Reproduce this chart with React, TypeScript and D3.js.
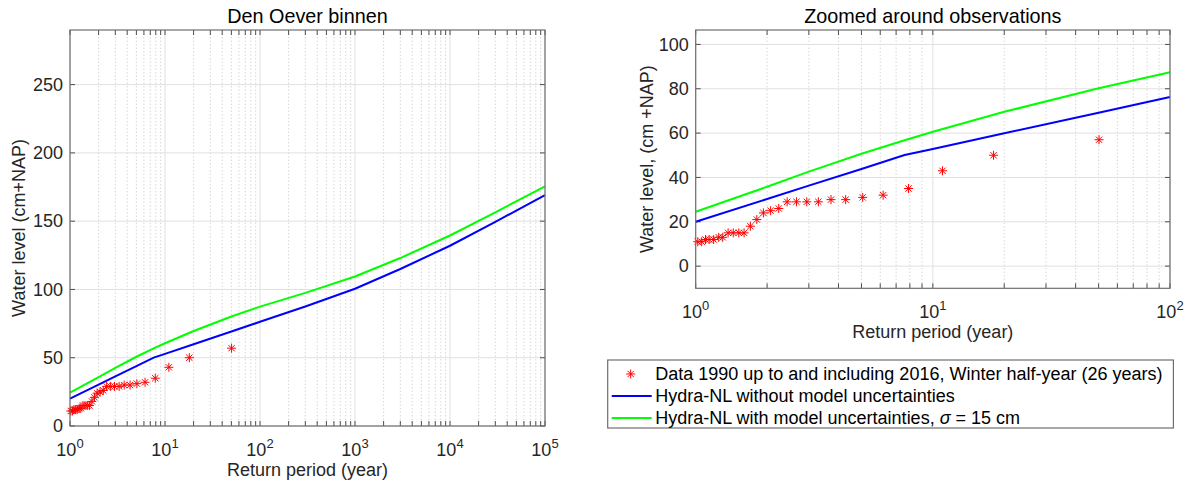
import React, { useRef, useEffect } from "react";
import * as d3 from "d3";

// observations, winter half-year maxima (return period in years, level in cm+NAP)
const obsPeriod = [50.21, 18.03, 10.98, 7.9, 6.17, 5.06, 4.29, 3.72, 3.29, 2.94, 2.66, 2.43, 2.24, 2.07,
  1.93, 1.81, 1.7, 1.6, 1.52, 1.44, 1.37, 1.3, 1.25, 1.19, 1.14, 1.1, 1.06, 1.02];
const obsLevel = [57, 50, 43, 35, 32, 31, 30, 30, 29, 29, 29, 29, 26, 25,
  24, 21, 18, 15, 15, 15, 15, 13, 13, 12, 12, 12, 11, 11];

// Hydra-NL curves
const modelPeriod = [1, 2, 3, 5, 7.6, 10, 20, 50, 100, 300, 1000, 3000, 10000, 30000, 100000];
const levelNoUnc = [20, 30.3, 36.3, 43.8, 50.1, 52.8, 59.9, 69.2, 76.3, 87.5, 100.5, 115, 132, 149.5, 169];
const levelUnc = [24.5, 35.8, 42.6, 50.7, 56.8, 60.6, 69.6, 80.2, 87.4, 97.5, 109.5, 123, 139.5, 156.5, 175.5];

const leftYTicks = [0, 50, 100, 150, 200, 250];
const rightYTicks = [0, 20, 40, 60, 80, 100];

const font = "'Liberation Sans', Arial, Helvetica, sans-serif";
const ink = "#262626";
const blue = "#0000ff";
const green = "#00ff00";
const red = "#ff0000";

// matlab style '*' marker
const star = (r) => {
  const a = r * 0.7;
  return `M${-r},0H${r}M0,${-r}V${r}M${-a},${-a}L${a},${a}M${-a},${a}L${a},${-a}`;
};

function drawPanel(svg, x, y, yTicks, title, yLabel, yLabelX, maxPeriod) {
  const [x0, x1] = x.range();
  const [yb, yt] = y.range();
  const g = svg.append("g");
  const isMajor = (t) => Math.abs(Math.log10(t) - Math.round(Math.log10(t))) < 1e-9;
  const xt = x.ticks();
  const major = xt.filter(isMajor);
  const minor = xt.filter((t) => !isMajor(t));

  // grid
  g.selectAll(".minor").data(minor).join("line")
    .attr("x1", (d) => x(d)).attr("x2", (d) => x(d))
    .attr("y1", yt).attr("y2", yb)
    .attr("stroke", "#cdcdcd").attr("stroke-width", 0.8)
    .attr("stroke-dasharray", "1.5,2");
  g.selectAll(".vmajor").data(major).join("line")
    .attr("x1", (d) => x(d)).attr("x2", (d) => x(d))
    .attr("y1", yt).attr("y2", yb)
    .attr("stroke", "#e0e0e0");
  g.selectAll(".hmajor").data(yTicks).join("line")
    .attr("x1", x0).attr("x2", x1)
    .attr("y1", (d) => y(d)).attr("y2", (d) => y(d))
    .attr("stroke", "#e0e0e0");

  // model lines
  const line = d3.line().x((d) => x(d[0])).y((d) => y(d[1]));
  const keep = modelPeriod.map((p, i) => i).filter((i) => modelPeriod[i] <= maxPeriod);
  g.append("path")
    .datum(keep.map((i) => [modelPeriod[i], levelNoUnc[i]]))
    .attr("fill", "none").attr("stroke", blue).attr("stroke-width", 2)
    .attr("d", line);
  g.append("path")
    .datum(keep.map((i) => [modelPeriod[i], levelUnc[i]]))
    .attr("fill", "none").attr("stroke", green).attr("stroke-width", 2)
    .attr("d", line);

  // observations
  g.selectAll(".obs").data(obsPeriod.map((p, i) => [p, obsLevel[i]])).join("path")
    .attr("transform", (d) => `translate(${x(d[0])},${y(d[1])})`)
    .attr("d", star(4.5))
    .attr("stroke", red).attr("stroke-width", 1).attr("fill", "none");

  // ticks (inward, on all four sides)
  const tk = 5;
  xt.forEach((t) => {
    g.append("line").attr("x1", x(t)).attr("x2", x(t)).attr("y1", yb).attr("y2", yb - tk)
      .attr("stroke", ink).attr("stroke-width", 0.8);
    g.append("line").attr("x1", x(t)).attr("x2", x(t)).attr("y1", yt).attr("y2", yt + tk)
      .attr("stroke", ink).attr("stroke-width", 0.8);
  });
  yTicks.forEach((t) => {
    g.append("line").attr("x1", x0).attr("x2", x0 + tk).attr("y1", y(t)).attr("y2", y(t))
      .attr("stroke", ink).attr("stroke-width", 0.8);
    g.append("line").attr("x1", x1).attr("x2", x1 - tk).attr("y1", y(t)).attr("y2", y(t))
      .attr("stroke", ink).attr("stroke-width", 0.8);
  });

  // frame
  g.append("rect").attr("x", x0).attr("y", yt).attr("width", x1 - x0).attr("height", yb - yt)
    .attr("fill", "none").attr("stroke", "#6e6e6e").attr("stroke-width", 1.2);

  // tick labels
  g.selectAll(".ylab").data(yTicks).join("text")
    .attr("x", x0 - 7).attr("y", (d) => y(d)).attr("dy", "0.35em")
    .attr("text-anchor", "end").attr("font-size", 18).attr("fill", ink)
    .text((d) => d);
  major.forEach((t) => {
    const txt = g.append("text").attr("x", x(t)).attr("y", yb + 30)
      .attr("text-anchor", "middle").attr("font-size", 18).attr("fill", ink);
    txt.append("tspan").text("10");
    txt.append("tspan").attr("dy", -8).attr("font-size", 13).text(Math.round(Math.log10(t)));
  });

  // titles / labels
  g.append("text").attr("x", (x0 + x1) / 2).attr("y", 23)
    .attr("text-anchor", "middle").attr("font-size", 19.8).attr("fill", "#000").text(title);
  g.append("text").attr("x", (x0 + x1) / 2).attr("y", yb + 50)
    .attr("text-anchor", "middle").attr("font-size", 18).attr("fill", ink)
    .text("Return period (year)");
  g.append("text")
    .attr("transform", `translate(${yLabelX},${(yb + yt) / 2}) rotate(-90)`)
    .attr("text-anchor", "middle").attr("font-size", 18).attr("fill", ink)
    .text(yLabel);
}

const App = () => {
  const ref = useRef(null);

  useEffect(() => {
    const svg = d3.select(ref.current);
    svg.selectAll("*").remove();

    const xL = d3.scaleLog().domain([1, 1e5]).range([70, 545]);
    const yL = d3.scaleLinear().domain([0, 290]).range([426, 30]);
    drawPanel(svg, xL, yL, leftYTicks, "Den Oever binnen", "Water level (cm+NAP)", 25, 1e5);

    const xR = d3.scaleLog().domain([1, 100]).range([695.7, 1170]);
    const yR = d3.scaleLinear().domain([-10, 106.5]).range([288.3, 30]);
    drawPanel(svg, xR, yR, rightYTicks, "Zoomed around observations", "Water level, (cm +NAP)", 653, 100);

    // legend
    const lg = svg.append("g");
    const lx = 607.7, ly = 360, lw = 565.7, lh = 68;
    lg.append("rect").attr("x", lx).attr("y", ly).attr("width", lw).attr("height", lh)
      .attr("fill", "#fff").attr("stroke", "#6e6e6e").attr("stroke-width", 1.2);
    const rows = [374, 396, 418];
    lg.append("path").attr("transform", `translate(${lx + 23},${rows[0]})`)
      .attr("d", star(4.5)).attr("stroke", red).attr("fill", "none");
    lg.append("line").attr("x1", lx + 4).attr("x2", lx + 44).attr("y1", rows[1]).attr("y2", rows[1])
      .attr("stroke", blue).attr("stroke-width", 2);
    lg.append("line").attr("x1", lx + 4).attr("x2", lx + 44).attr("y1", rows[2]).attr("y2", rows[2])
      .attr("stroke", green).attr("stroke-width", 2);
    const t0 = lg.append("text").attr("x", lx + 47.5).attr("y", rows[0]).attr("dy", "0.35em")
      .attr("font-size", 18).attr("fill", "#000");
    t0.text("Data 1990 up to and including 2016, Winter half-year (26 years)");
    lg.append("text").attr("x", lx + 47.5).attr("y", rows[1]).attr("dy", "0.35em")
      .attr("font-size", 18).attr("fill", "#000")
      .text("Hydra-NL without model uncertainties");
    const t2 = lg.append("text").attr("x", lx + 47.5).attr("y", rows[2]).attr("dy", "0.35em")
      .attr("font-size", 18).attr("fill", "#000");
    t2.append("tspan").text("Hydra-NL with model uncertainties, ");
    t2.append("tspan").attr("font-style", "italic").text("σ");
    t2.append("tspan").text(" = 15 cm");
  }, []);

  return (
    <svg
      ref={ref}
      width={1189}
      height={485}
      viewBox="0 0 1189 485"
      style={{ position: "absolute", left: 0, top: 0, background: "#fff", fontFamily: font }}
    />
  );
};

export default App;
